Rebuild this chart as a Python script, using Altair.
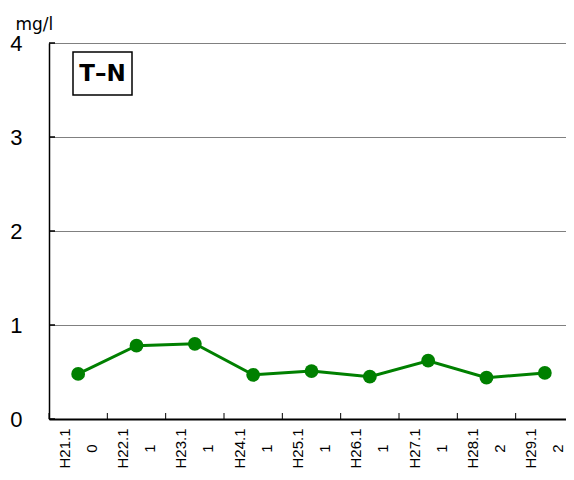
import altair as alt
import pandas as pd

categories = ["H21.10", "H22.11", "H23.11", "H24.11", "H25.11", "H26.11", "H27.11", "H28.12", "H29.12"]
values = [0.48, 0.78, 0.80, 0.47, 0.51, 0.45, 0.62, 0.44, 0.49]
y_ticks = [0, 1, 2, 3, 4]

df = pd.DataFrame({"cat": categories, "val": values})
df_ticks = pd.DataFrame({"v": y_ticks})

W, H = 517, 376
XRANGE = 525
GREEN = "#008000"

xscale = alt.Scale(domain=categories, paddingInner=0, paddingOuter=0, range=[0, XRANGE])
yscale = alt.Scale(domain=[0, 4], nice=False)

x_axis = alt.Axis(
    title=None,
    labelAngle=270,
    labelAlign="center",
    labelBaseline="middle",
    labelPadding=29,
    labelOffset=-13.5,
    labelLineHeight=27,
    labelFont="Liberation Sans",
    labelFontSize=15,
    labelColor="black",
    labelExpr="[slice(datum.label, 0, 5), slice(datum.label, 5)]",
    ticks=False,
    domainColor="black",
    domainWidth=2,
    grid=False,
)

y_axis = alt.Axis(
    values=y_ticks,
    format="d",
    title="mg/l",
    titleAngle=0,
    titleAlign="left",
    titleBaseline="alphabetic",
    titleX=-34,
    titleY=-14,
    titleFont="DejaVu Sans",
    titleFontSize=17,
    titleFontWeight="normal",
    titleColor="black",
    labelFont="Liberation Sans",
    labelFontSize=22,
    labelColor="black",
    labelPadding=27,
    labelAlign="right",
    labelBaseline="middle",
    ticks=False,
    domainColor="black",
    domainWidth=1.5,
    grid=True,
    gridColor="#000000",
    gridDash=[1, 1],
    gridWidth=1,
)

base = alt.Chart(df)

line = base.mark_line(color=GREEN, strokeWidth=3).encode(
    x=alt.X("cat:N", scale=xscale, axis=x_axis, sort=categories),
    y=alt.Y("val:Q", scale=yscale, axis=y_axis),
)
points = base.mark_point(filled=True, color=GREEN, size=190, opacity=1).encode(
    x=alt.X("cat:N", scale=xscale, sort=categories),
    y=alt.Y("val:Q", scale=yscale),
)
xticks = base.mark_rule(color="black", strokeWidth=1).encode(
    x=alt.X("cat:N", scale=xscale, sort=categories, bandPosition=0),
    y=alt.value(H - 6),
    y2=alt.value(H),
)
yticks = alt.Chart(df_ticks).mark_rule(color="black", strokeWidth=1.5).encode(
    y=alt.Y("v:Q", scale=yscale),
    x=alt.value(0),
    x2=alt.value(6),
)

box = alt.Chart(pd.DataFrame({"t": ["T–N"]})).mark_rect(
    fill="white", stroke="black", strokeWidth=1.5
).encode(
    x=alt.value(24), x2=alt.value(83), y=alt.value(9), y2=alt.value(52)
)
box_text = alt.Chart(pd.DataFrame({"t": ["T–N"]})).mark_text(
    font="DejaVu Sans", fontSize=23, fontWeight="bold", color="black",
    align="center", baseline="middle"
).encode(
    text="t:N", x=alt.value(53.5), y=alt.value(31)
)

chart = alt.layer(xticks, yticks, line, points, box, box_text).properties(
    width=W,
    height=H,
    autosize=alt.AutoSizeParams(type="none"),
    padding={"left": 41, "top": 35, "right": 0, "bottom": 49},
).configure_view(stroke=None)

chart.save("out.html", embed_options={"renderer": "svg", "actions": False})
